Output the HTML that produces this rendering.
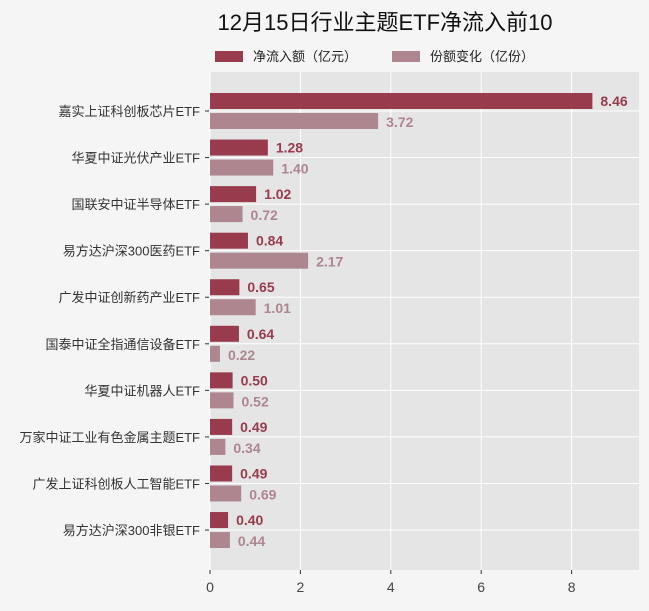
<!DOCTYPE html>
<html><head><meta charset="utf-8"><style>
body{margin:0;background:#f5f5f5;font-family:"Liberation Sans","Noto Sans CJK SC",sans-serif;}
</style></head><body>
<svg width="649" height="606" xmlns="http://www.w3.org/2000/svg" style="font-family:'Liberation Sans','Noto Sans CJK SC',sans-serif">
<rect width="649" height="606" fill="#f5f5f5"/>
<text x="385" y="30" text-anchor="middle" font-size="22" fill="#111">12月15日行业主题ETF净流入前10</text>
<g>
<rect x="215" y="51" width="28" height="11" fill="#983b4c"/>
<text x="253" y="61" font-size="13" fill="#222">净流入额（亿元）</text>
<rect x="392" y="51" width="28" height="11" fill="#ad8690"/>
<text x="430" y="61" font-size="13" fill="#222">份额变化（亿份）</text>
</g>
<rect x="210" y="72" width="429" height="498" fill="#e5e5e5"/>
<g id="grid"></g><g id="bars"></g><g id="axes"></g>
</svg>
<script>
const categories=["嘉实上证科创板芯片ETF","华夏中证光伏产业ETF","国联安中证半导体ETF","易方达沪深300医药ETF","广发中证创新药产业ETF","国泰中证全指通信设备ETF","华夏中证机器人ETF","万家中证工业有色金属主题ETF","广发上证科创板人工智能ETF","易方达沪深300非银ETF"];
const inflow=[8.46,1.28,1.02,0.84,0.65,0.64,0.50,0.49,0.49,0.40];
const shares=[3.72,1.40,0.72,2.17,1.01,0.22,0.52,0.34,0.69,0.44];
const xTicks=[0,2,4,6,8];
const NS="http://www.w3.org/2000/svg";
const x=v=>210+v*45.2;
const y=i=>111+i*46.56;
function mk(t,a,p){const e=document.createElementNS(NS,t);for(const k in a)e.setAttribute(k,a[k]);p.appendChild(e);return e;}
const grid=document.getElementById('grid'),bars=document.getElementById('bars'),axes=document.getElementById('axes');
xTicks.forEach(t=>{
 const l=mk('line',{x1:x(t),x2:x(t),y1:72,y2:570,stroke:'#fff','stroke-width':1},grid);
 
 
 const tk=mk('line',{x1:x(t),x2:x(t),y1:570,y2:574,stroke:'#333'},axes);
 
 
 const tx=mk('text',{x:x(t),y:592,'text-anchor':'middle','font-size':14,fill:'#444'},axes);
 tx.textContent=t;
 
 
});
categories.forEach((c,i)=>{
 const l=mk('line',{x1:210,x2:639,y1:y(i),y2:y(i),stroke:'#fff','stroke-width':1},grid);
 
 
 const tk=mk('line',{x1:205,x2:209,y1:y(i),y2:y(i),stroke:'#333'},axes);
 
 
 const tx=mk('text',{x:200,y:y(i)+5,'text-anchor':'end','font-size':13,fill:'#333'},axes);
 tx.textContent=c;
 
 
 const b1=mk('rect',{x:210,y:y(i)-18,width:x(inflow[i])-210,height:16,fill:'#983b4c'},bars);
 
 
 const t1=mk('text',{x:x(inflow[i])+8,y:y(i)-5,'font-size':14,'font-weight':'bold',fill:'#983b4c'},bars);
 t1.textContent=inflow[i].toFixed(2);
 
 
 const b2=mk('rect',{x:210,y:y(i)+2,width:x(shares[i])-210,height:16,fill:'#ad8690'},bars);
 
 
 const t2=mk('text',{x:x(shares[i])+8,y:y(i)+16,'font-size':14,'font-weight':'bold',fill:'#ad8690'},bars);
 t2.textContent=shares[i].toFixed(2);
 
 
});
</script>
</body></html>
